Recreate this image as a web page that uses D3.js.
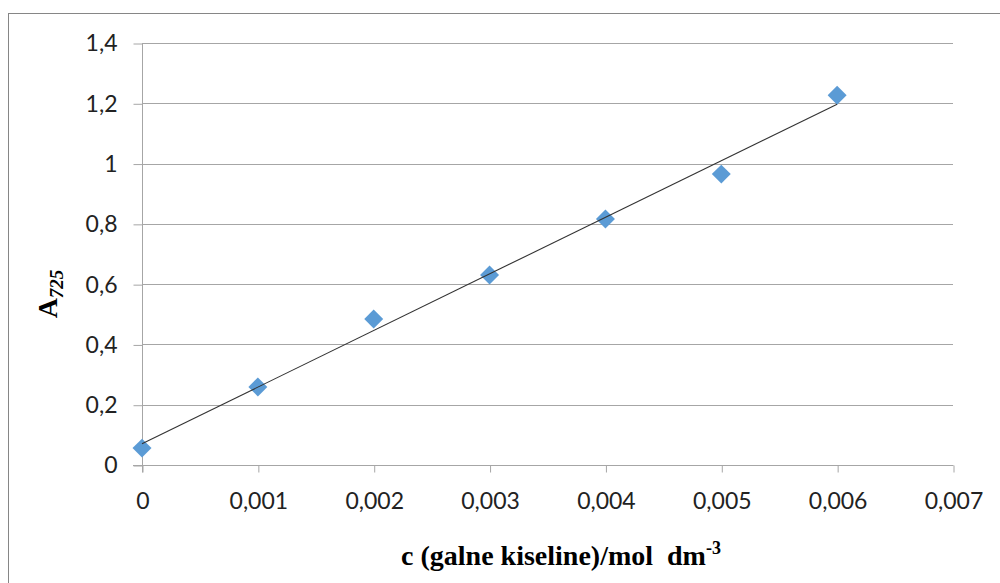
<!DOCTYPE html>
<html>
<head>
<meta charset="utf-8">
<script src="https://cdn.jsdelivr.net/npm/d3@7/dist/d3.min.js"></script>
<style>
  html, body { margin: 0; padding: 0; background: #fff; }
  svg { display: block; }
  text { white-space: pre; }
</style>
</head>
<body>
<svg id="chart" width="1000" height="583"></svg>
<script>
// ---- data ----
const concentrations = [0, 0.001, 0.002, 0.003, 0.004, 0.005, 0.006];
const absorbance = [0.056, 0.259, 0.484, 0.630, 0.816, 0.965, 1.227];
const xTicks = [0, 0.001, 0.002, 0.003, 0.004, 0.005, 0.006, 0.007];
const yTicks = [0, 0.2, 0.4, 0.6, 0.8, 1, 1.2, 1.4];
const xTitleMain = "c (galne kiseline)/mol  dm";
const xTitleSup = "-3";
const yTitleMain = "A";
const yTitleSub = "725";

// ---- layout ----
const svg = d3.select("#chart");
const plot = { left: 142, right: 953, top: 43, bottom: 465 };
const gridColor = "#a6a6a6";
const tickFont = "Lato, 'Open Sans', sans-serif";
const titleFont = "'Liberation Serif', 'Times New Roman', serif";

// outer chart border
svg.append("rect")
  .attr("x", 8.5).attr("y", 13.5)
  .attr("width", 1010).attr("height", 600)
  .attr("fill", "#fff").attr("stroke", "#868686").attr("stroke-width", 1);

const x = d3.scaleLinear().domain([0, 0.007]).range([plot.left, plot.right]);
const y = d3.scaleLinear().domain([0, 1.4]).range([plot.bottom, plot.top]);

const fmt = v => {
  const s = d3.format("~g")(+v.toFixed(4));
  return s.replace(".", ",");
};

// horizontal gridlines
svg.append("g").selectAll("line")
  .data(yTicks.filter(v => v !== 0))
  .join("line")
  .attr("x1", plot.left).attr("x2", plot.right)
  .attr("y1", d => Math.round(y(d)) + 0.5).attr("y2", d => Math.round(y(d)) + 0.5)
  .attr("stroke", gridColor).attr("stroke-width", 1);

// y axis
const yAxis = svg.append("g")
  .attr("transform", `translate(${plot.left + 0.5},0.5)`)
  .call(d3.axisLeft(y).tickValues(yTicks).tickFormat(fmt).tickSize(9).tickPadding(16));
yAxis.select(".domain").attr("d", `M0,${plot.top - 0.5}V${plot.bottom + 7}`).attr("stroke", gridColor);
yAxis.selectAll(".tick line").attr("stroke", gridColor);
yAxis.selectAll(".tick text")
  .attr("font-family", tickFont).attr("font-size", 23).attr("fill", "#222");

// x axis
const xAxis = svg.append("g")
  .attr("transform", `translate(0.5,${plot.bottom + 0.5})`)
  .call(d3.axisBottom(x).tickValues(xTicks).tickFormat(fmt).tickSize(7).tickPadding(20));
xAxis.select(".domain").attr("d", `M${plot.left - 9.5},0H${plot.right}`).attr("stroke", gridColor);
xAxis.selectAll(".tick line").attr("stroke", gridColor);
xAxis.selectAll(".tick text")
  .attr("font-family", tickFont).attr("font-size", 23).attr("fill", "#222");

// linear trendline (least squares from the data)
const n = concentrations.length;
const mx = d3.mean(concentrations), my = d3.mean(absorbance);
let sxy = 0, sxx = 0;
for (let i = 0; i < n; i++) {
  sxy += (concentrations[i] - mx) * (absorbance[i] - my);
  sxx += (concentrations[i] - mx) ** 2;
}
const slope = sxy / sxx, intercept = my - slope * mx;
const xMin = d3.min(concentrations), xMax = d3.max(concentrations);
svg.append("path")
  .datum([xMin, xMax])
  .attr("d", d3.line().x(d => x(d)).y(d => y(intercept + slope * d)))
  .attr("stroke", "#333").attr("stroke-width", 1.1).attr("fill", "none");

// markers
const diamond = d3.symbol().type(d3.symbolSquare).size(180);
svg.append("g").selectAll("path")
  .data(concentrations.map((c, i) => [c, absorbance[i]]))
  .join("path")
  .attr("d", diamond)
  .attr("transform", d => `translate(${x(d[0])},${y(d[1])}) rotate(45)`)
  .attr("fill", "#5B9BD5");

// draw trendline over markers? (In reference the line is drawn above markers)
svg.select("path[stroke='#333']").raise();

// x title
const xt = svg.append("text")
  .attr("x", 561).attr("y", 565)
  .attr("text-anchor", "middle")
  .attr("font-family", titleFont).attr("font-weight", "bold")
  .attr("font-size", 28).attr("fill", "#000");
xt.append("tspan").text(xTitleMain);
xt.append("tspan").attr("font-size", 18).attr("dy", -11).text(xTitleSup);

// y title
const yt = svg.append("text")
  .attr("transform", "translate(57,294) rotate(-90)")
  .attr("text-anchor", "middle")
  .attr("font-family", titleFont).attr("font-weight", "bold")
  .attr("font-size", 28).attr("fill", "#000");
yt.append("tspan").text(yTitleMain);
yt.append("tspan").attr("font-size", 19).attr("font-style", "italic").attr("dy", 6).text(yTitleSub);
</script>
</body>
</html>
